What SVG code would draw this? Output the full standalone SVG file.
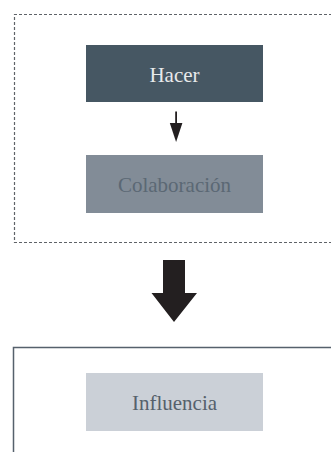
<svg xmlns="http://www.w3.org/2000/svg" width="331" height="452" viewBox="0 0 331 452">
<style>
.lbl{font-family:"Liberation Serif","Times New Roman",serif;font-size:21px;text-anchor:middle}
.arrow{fill:#231f20}
</style>
<rect width="331" height="452" fill="#ffffff"/>
<g id="group-dashed">
<path d="M332,242.5 H14.5 V14.5 H332" fill="none" stroke="#5f6368" stroke-width="1.2" stroke-dasharray="3,2"/>
</g>
<g id="group-solid">
<path d="M13.5,452 V347.5 H332" fill="none" stroke="#56616c" stroke-width="1.5"/>
</g>
<g id="node-hacer">
<rect x="86" y="45" width="177" height="57" fill="#465763"/>
<text class="lbl" x="174.5" y="81.5" fill="#e8eaec">Hacer</text>
</g>
<g id="node-colaboracion">
<rect x="86" y="155" width="177" height="58" fill="#828c97"/>
<text class="lbl" x="174.5" y="191.5" fill="#5b6874">Colaboración</text>
</g>
<g id="node-influencia">
<rect x="86" y="373" width="177" height="58" fill="#cbd0d7"/>
<text class="lbl" x="174.5" y="410" fill="#56616c">Influencia</text>
</g>
<g id="connectors">
<rect class="arrow" x="175.2" y="111.5" width="1.8" height="12.5"/>
<polygon class="arrow" points="169.8,123 182.4,123 176.1,142"/>
<polygon class="arrow" points="163,260 185,260 185,293 197,293 174,322 151.5,293 163,293"/>
</g>
</svg>
